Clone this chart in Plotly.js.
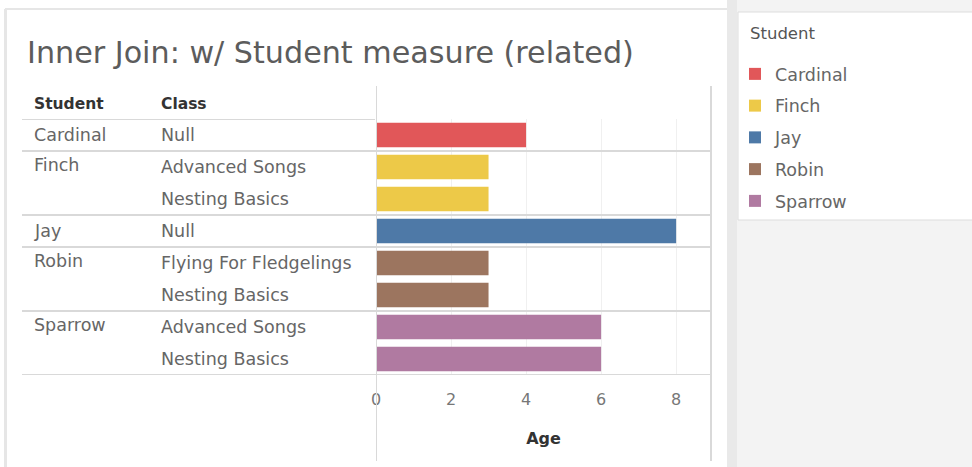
<!DOCTYPE html>
<html>
<head>
<meta charset="utf-8">
<script src="https://cdn.plot.ly/plotly-3.0.1.min.js"></script>
<style>
html,body{margin:0;padding:0;background:#ffffff;}
#chart{width:972px;height:467px;}
</style>
</head>
<body>
<div id="chart"></div>
<script>
// ---- data ----
var students = ['Cardinal', 'Finch', 'Jay', 'Robin', 'Sparrow'];
var studentColors = ['#e15759', '#edc948', '#4e79a7', '#9c755f', '#b07aa1'];
var rowStudent = ['Cardinal', 'Finch', 'Finch', 'Jay', 'Robin', 'Robin', 'Sparrow', 'Sparrow'];
var rowClass = ['Null', 'Advanced Songs', 'Nesting Basics', 'Null', 'Flying For Fledgelings', 'Nesting Basics', 'Advanced Songs', 'Nesting Basics'];
var rowAge = [4, 3, 3, 8, 3, 3, 6, 6];
var xTicks = [0, 2, 4, 6, 8];
var titleText = 'Inner Join: w/ Student measure (related)';
var headerStudent = 'Student';
var headerClass = 'Class';
var axisTitle = 'Age';
var legendTitle = 'Student';

// ---- layout helpers (pixel -> paper) ----
var W = 972, H = 467;
var L = 376, R = 711, T = 119, B = 375;
function px(x) { return (x - L) / (R - L); }
function py(y) { return (B - y) / (B - T); }

var FONT = '"DejaVu Sans", Verdana, sans-serif';
var LABEL = '#666666';

// ---- traces ----
var traces = students.map(function (s, i) {
  var ys = [], xs = [];
  rowStudent.forEach(function (st, r) {
    if (st === s) { ys.push(r); xs.push(rowAge[r]); }
  });
  return {
    type: 'bar', orientation: 'h', name: s, x: xs, y: ys,
    width: 0.76, legendgroup: s,
    marker: { color: studentColors[i], line: { width: 0 } },
    hoverinfo: 'x+name'
  };
});

// ---- annotations (row labels) ----
var annotations = [];
annotations.push({ xref: 'paper', yref: 'paper', x: px(25), y: py(52), xanchor: 'left', yanchor: 'middle',
  text: titleText, showarrow: false, font: { family: FONT, size: 30.2, color: '#5c5c5c' } });
annotations.push({ xref: 'paper', yref: 'paper', x: px(32), y: py(104), xanchor: 'left', yanchor: 'middle',
  text: '<b>' + headerStudent + '</b>', showarrow: false, font: { family: FONT, size: 15.5, color: '#333333' } });
annotations.push({ xref: 'paper', yref: 'paper', x: px(159), y: py(104), xanchor: 'left', yanchor: 'middle',
  text: '<b>' + headerClass + '</b>', showarrow: false, font: { family: FONT, size: 15.5, color: '#333333' } });
rowStudent.forEach(function (st, r) {
  if (r === 0 || rowStudent[r - 1] !== st) {
    var multi = r < rowStudent.length - 1 && rowStudent[r + 1] === st;
    annotations.push({ xref: 'paper', yref: 'y', x: px(32), y: r, yshift: multi ? 2 : 0,
      xanchor: 'left', yanchor: 'middle', text: st, showarrow: false,
      font: { family: FONT, size: 17.5, color: LABEL } });
  }
  annotations.push({ xref: 'paper', yref: 'y', x: px(159), y: r, xanchor: 'left', yanchor: 'middle',
    text: rowClass[r], showarrow: false, font: { family: FONT, size: 17.5, color: LABEL } });
});
annotations.push({ xref: 'paper', yref: 'paper', x: px(748), y: py(33), xanchor: 'left', yanchor: 'middle',
  text: legendTitle, showarrow: false, font: { family: FONT, size: 16.5, color: '#555555' } });

// ---- shapes ----
var LINE = '#d9d9d9';
var shapes = [];
// page frame pieces
shapes.push({ type: 'rect', xref: 'paper', yref: 'paper', x0: px(727), x1: px(980), y0: py(-5), y1: py(480),
  fillcolor: '#f3f3f3', line: { width: 0 }, layer: 'below' });
shapes.push({ type: 'rect', xref: 'paper', yref: 'paper', x0: px(727), x1: px(737), y0: py(-5), y1: py(480),
  fillcolor: '#e9e9e9', line: { width: 0 }, layer: 'below' });
shapes.push({ type: 'rect', xref: 'paper', yref: 'paper', x0: px(738), x1: px(980), y0: py(12), y1: py(220),
  fillcolor: '#ffffff', line: { color: '#dddddd', width: 1 }, layer: 'below' });
shapes.push({ type: 'line', xref: 'paper', yref: 'paper', x0: px(5.5), x1: px(5.5), y0: py(9), y1: py(480),
  line: { color: '#e6e6e6', width: 3 }, layer: 'below' });
shapes.push({ type: 'line', xref: 'paper', yref: 'paper', x0: px(5), x1: px(727), y0: py(9), y1: py(9),
  line: { color: '#e6e6e6', width: 2 }, layer: 'below' });
// vertical pane lines
shapes.push({ type: 'line', xref: 'x', yref: 'paper', x0: 0, x1: 0, y0: py(86), y1: py(461),
  line: { color: LINE, width: 2 }, layer: 'above' });
shapes.push({ type: 'line', xref: 'paper', yref: 'paper', x0: 1, x1: 1, y0: py(86), y1: py(461),
  line: { color: LINE, width: 2 }, layer: 'above' });
// header line
shapes.push({ type: 'line', xref: 'paper', yref: 'y', x0: px(22), x1: px(375), y0: -0.5, y1: -0.5,
  line: { color: LINE, width: 2 } });
// group separators
rowStudent.forEach(function (st, r) {
  if (r === rowStudent.length - 1 || rowStudent[r + 1] !== st) {
    shapes.push({ type: 'line', xref: 'paper', yref: 'y', x0: px(22), x1: 1, y0: r + 0.5, y1: r + 0.5,
      line: { color: LINE, width: 2 } });
  }
});

var layout = {
  width: W, height: H,
  margin: { l: L, r: W - R, t: T, b: H - B, pad: 0 },
  paper_bgcolor: '#ffffff', plot_bgcolor: 'rgba(0,0,0,0)',
  font: { family: FONT, color: LABEL },
  barmode: 'overlay',
  xaxis: {
    range: [0, 8.93], tickvals: xTicks, ticktext: xTicks.map(String),
    showgrid: true, gridcolor: '#f0f0f0', gridwidth: 1, zeroline: false, showline: false,
    ticks: '', ticklabelstandoff: 13, tickfont: { family: FONT, size: 16, color: '#777777' },
    title: { text: '<b>' + axisTitle + '</b>', standoff: 24, font: { family: FONT, size: 16, color: '#333333' } },
    fixedrange: true
  },
  yaxis: {
    range: [rowStudent.length - 0.5, -0.5], showticklabels: false, showgrid: false,
    zeroline: false, showline: false, ticks: '', fixedrange: true
  },
  showlegend: true,
  legend: {
    x: px(735), y: py(56), xanchor: 'left', yanchor: 'top',
    bgcolor: 'rgba(0,0,0,0)', borderwidth: 0,
    font: { family: FONT, size: 17.5, color: LABEL },
    tracegroupgap: 6, traceorder: 'grouped',
    itemclick: false, itemdoubleclick: false
  },
  annotations: annotations,
  shapes: shapes
};

Plotly.newPlot('chart', traces, layout, { displayModeBar: false, staticPlot: true });
</script>
</body>
</html>
